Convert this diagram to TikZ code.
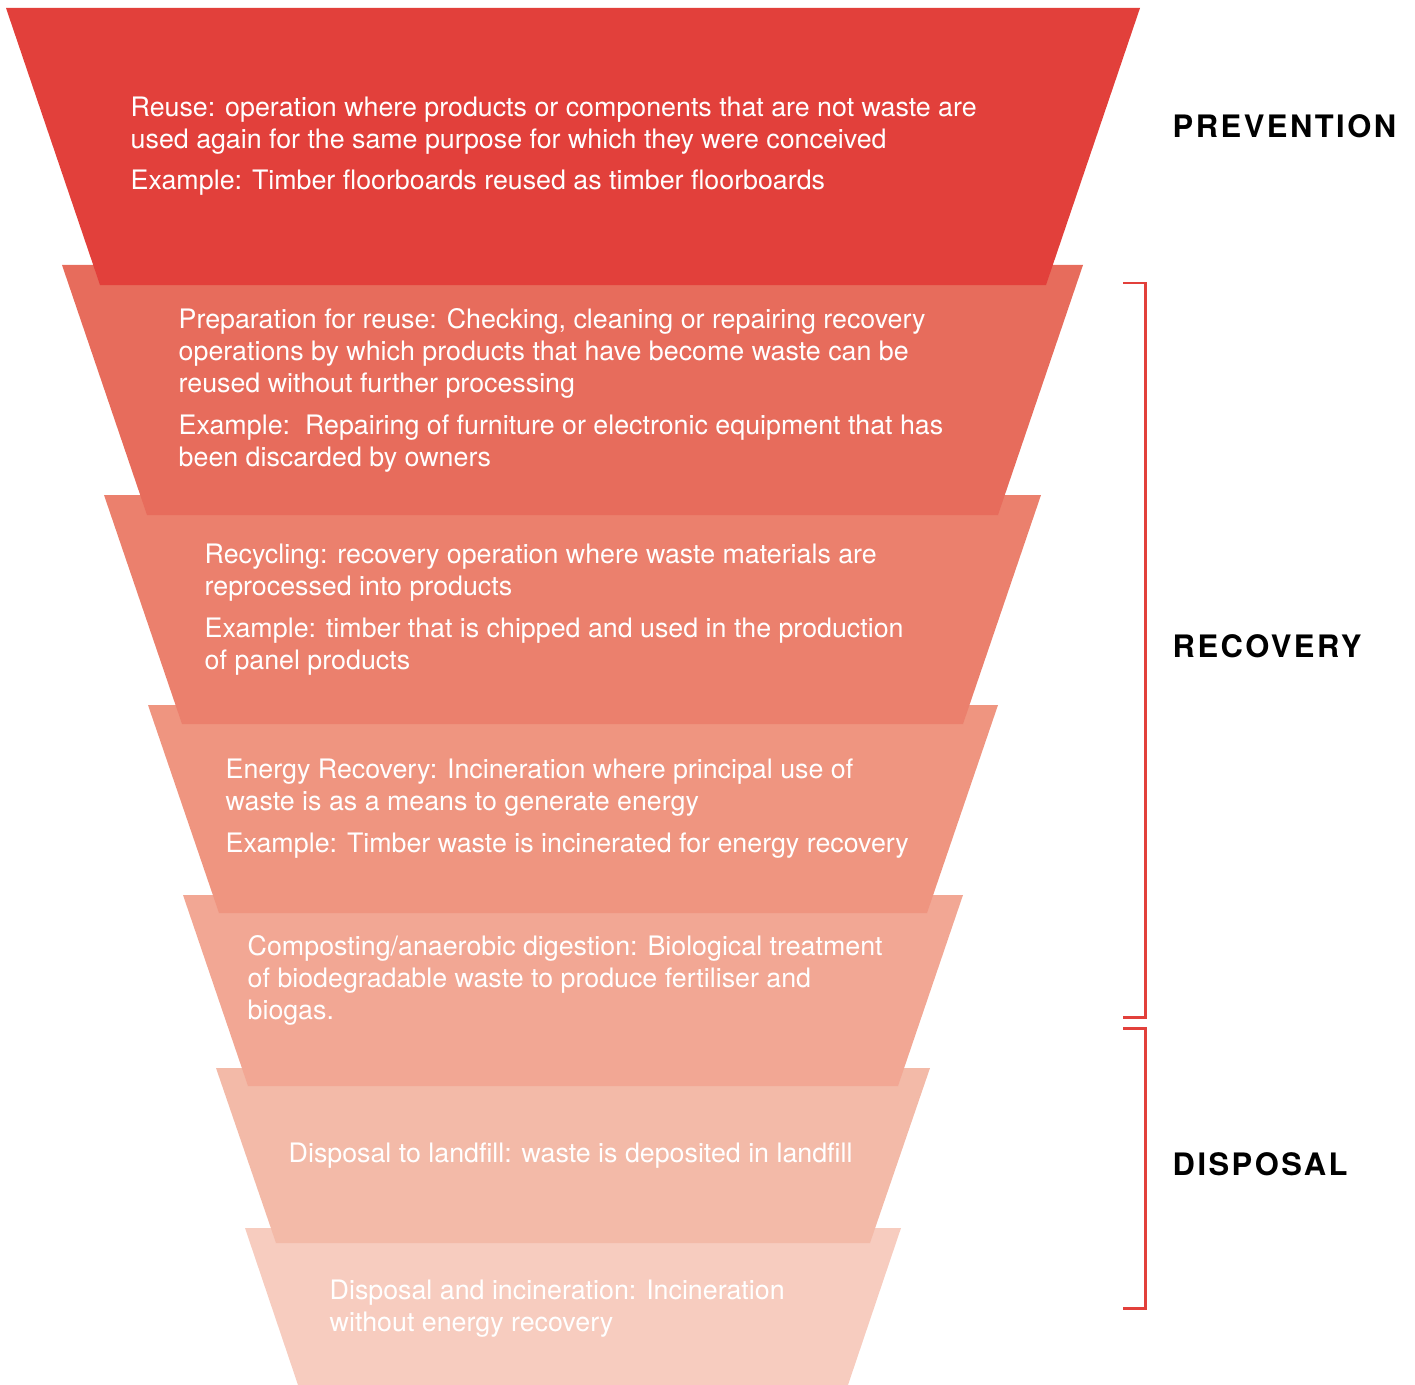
\documentclass[tikz,border=0pt]{standalone}
\usepackage{fontspec}
\setmainfont{TeX Gyre Heros}
\newfontfamily\headfont[LetterSpace=8]{TeX Gyre Heros}
\usepackage{tikz}
\definecolor{lvlone}{HTML}{E2403B}
\definecolor{lvltwo}{HTML}{E76C5C}
\definecolor{lvlthree}{HTML}{EB806D}
\definecolor{lvlfour}{HTML}{EF9580}
\definecolor{lvlfive}{HTML}{F2A794}
\definecolor{lvlsix}{HTML}{F3BAA8}
\definecolor{lvlseven}{HTML}{F7CCBF}
\definecolor{brack}{HTML}{E2403B}
\tikzset{txt/.style={text=white,anchor=base west,align=left,inner sep=0pt,font=\fontsize{7.62}{9.1}\selectfont},
  head/.style={text=black,anchor=base west,inner sep=0pt,font=\headfont\bfseries\fontsize{8.8}{10}\selectfont},
  brace/.style={draw=brack,line width=0.85pt}}

\begin{document}
\begin{tikzpicture}[x=0.01cm,y=-0.01cm]
    \useasboundingbox (0,0) rectangle (1415,1385);

    \fill[lvlseven] (245,1228) -- (901,1228) -- (848,1385) -- (298,1385) -- cycle;
    \fill[lvlsix] (216,1068) -- (930,1068) -- (870,1243) -- (276,1243) -- cycle;
    \fill[lvlfive] (183,895) -- (963,895) -- (898,1086) -- (248,1086) -- cycle;
    \fill[lvlfour] (148,705) -- (998,705) -- (927,913) -- (219,913) -- cycle;
    \fill[lvlthree] (104,495) -- (1041,495) -- (963,724) -- (182,724) -- cycle;
    \fill[lvltwo] (62,265) -- (1083,265) -- (998,515) -- (147,515) -- cycle;
    \fill[lvlone] (6,8) -- (1140,8) -- (1046,285) -- (100,285) -- cycle;

    \node[txt] (reuse) at (130,190) {Reuse: operation where products or components that are not waste are\\
        used again for the same purpose for which they were conceived\\[2.8pt]
        Example: Timber floorboards reused as timber floorboards};
    \node[txt] (prepreuse) at (178,466) {Preparation for reuse: Checking, cleaning or repairing recovery\\
        operations by which products that have become waste can be\\
        reused without further processing\\[2.8pt]
        Example:\ \ Repairing of furniture or electronic equipment that has\\
        been discarded by owners};
    \node[txt] (recycle) at (204,669) {Recycling: recovery operation where waste materials are\\
        reprocessed into products\\[2.8pt]
        Example: timber that is chipped and used in the production\\
        of panel products};
    \node[txt] (energy) at (225,852) {Energy Recovery: Incineration where principal use of\\
        waste is as a means to generate energy\\[2.8pt]
        Example: Timber waste is incinerated for energy recovery};
    \node[txt] (compost) at (247,1019) {Composting/anaerobic digestion: Biological treatment\\
        of biodegradable waste to produce fertiliser and\\
        biogas.};
    \node[txt] (landfill) at (288,1162) {Disposal to landfill: waste is deposited in landfill};
    \node[txt] (incin) at (329,1331) {Disposal and incineration: Incineration\\
        without energy recovery};

    \coordinate (rectick) at (1123,283);
    \coordinate (rectop) at (1145,283);
    \coordinate (recbot) at (1145,1017);
    \coordinate (recend) at (1123,1017);
    \coordinate (distick) at (1123,1028);
    \coordinate (distop) at (1145,1028);
    \coordinate (disbot) at (1145,1308);
    \coordinate (disend) at (1123,1308);
    \draw[brace] (rectick) -- (rectop) -- (recbot) -- (recend);
    \draw[brace] (distick) -- (distop) -- (disbot) -- (disend);

    \node[head] (prevlbl) at (1172,138) {PREVENTION};
    \node[head] (recovlbl) at (1172,657) {RECOVERY};
    \node[head] (displbl) at (1172,1175) {DISPOSAL};
\end{tikzpicture}
\end{document}
